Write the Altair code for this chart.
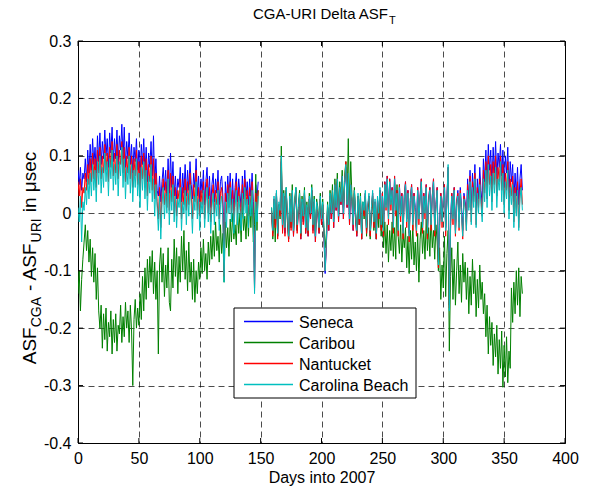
import altair as alt
import pandas as pd

FONT = "Liberation Sans"

stations = ["Seneca", "Caribou", "Nantucket", "Carolina Beach"]
colors = ["#0000ff", "#008000", "#ff0000", "#00bfbf"]
xticks = [0, 50, 100, 150, 200, 250, 300, 350, 400]
yticks = [-0.4, -0.3, -0.2, -0.1, 0.0, 0.1, 0.2, 0.3]

# days 0..148 (segment a) and 159..365 (segment b)
start_a = 0
start_b = 159

seneca_a = [
    0.075, 0.050, 0.080, 0.040, 0.070, 0.060, 0.095, 0.055, 0.110, 0.070,
    0.120, 0.075, 0.130, 0.085, 0.115, 0.070, 0.135, 0.090, 0.140, 0.085,
    0.125, 0.095, 0.145, 0.100, 0.130, 0.080, 0.140, 0.105, 0.150, 0.090,
    0.130, 0.095, 0.145, 0.085, 0.135, 0.110, 0.155, 0.095, 0.150, 0.080,
    0.125, 0.095, 0.140, 0.085, 0.120, 0.070, 0.115, 0.090, 0.130, 0.075,
    0.110, 0.060, 0.120, 0.085, 0.130, 0.070, 0.115, 0.055, 0.105, 0.080,
    0.125, 0.065, 0.135, 0.050, 0.095, 0.040, 0.030, 0.065, 0.020, 0.055,
    0.080, 0.040, 0.075, 0.030, 0.095, 0.035, 0.105, 0.045, 0.090, 0.030,
    0.065, 0.025, 0.060, 0.045, 0.080, 0.020, 0.070, 0.035, 0.085, 0.030,
    0.075, 0.040, 0.090, 0.050, 0.025, 0.070, 0.045, 0.095, 0.030, 0.065,
    0.020, 0.060, 0.035, 0.075, 0.015, 0.055, 0.080, 0.025, 0.065, 0.010,
    0.050, 0.070, 0.020, 0.060, 0.035, 0.075, 0.015, 0.055, 0.065, 0.030,
    -0.100, 0.055, 0.020, 0.065, 0.030, 0.070, 0.015, 0.060, 0.005, 0.045,
    0.070, 0.020, 0.060, 0.035, 0.010, 0.065, 0.025, 0.075, 0.030, 0.055,
    0.015, 0.060, 0.030, 0.070, 0.020, -0.130, 0.050, 0.025, 0.055,
]
seneca_b = [
    0.000, -0.035, 0.025, -0.020, 0.035, -0.040, 0.015, 0.000, 0.090, -0.030,
    0.030, -0.035, 0.040, -0.010, -0.045, 0.025, -0.025, 0.035, -0.040, 0.015,
    0.040, -0.030, 0.005, 0.030, -0.045, 0.020, -0.015, 0.035, -0.035, 0.010,
    -0.040, 0.025, -0.010, 0.040, -0.030, 0.020, -0.050, 0.015, 0.000, -0.035,
    0.025, -0.020, 0.015, -0.040, -0.105, -0.055, 0.010, -0.030, 0.030, -0.010,
    0.035, -0.025, 0.045, 0.005, 0.055, -0.015, 0.040, 0.015, 0.060, -0.010,
    0.050, 0.080, 0.010, 0.065, -0.020, 0.045, 0.020, -0.030, 0.035, -0.010,
    -0.040, 0.030, -0.020, 0.025, -0.045, 0.015, 0.000, 0.035, -0.035, 0.010,
    0.030, -0.040, 0.005, 0.035, -0.025, 0.020, -0.045, 0.025, -0.010, 0.040,
    -0.025, 0.035, -0.025, 0.055, 0.015, 0.065, -0.005, 0.060, 0.020, 0.045,
    -0.020, 0.065, 0.010, 0.040, -0.025, 0.050, 0.000, 0.035, -0.030, 0.030,
    0.055, -0.010, 0.040, -0.035, 0.025, 0.050, -0.015, 0.035, 0.010, -0.025,
    0.045, -0.005, 0.030, 0.060, -0.020, 0.035, 0.005, 0.050, -0.030, 0.025,
    0.045, -0.015, 0.030, 0.060, -0.025, 0.015, 0.045, -0.085, -0.015, 0.035,
    -0.010, 0.025, 0.050, -0.025, 0.025, 0.080, -0.160, -0.015, 0.035, -0.005,
    0.045, -0.030, 0.020, 0.040, -0.015, 0.045, 0.010, -0.030, 0.035, 0.020,
    -0.015, 0.060, 0.025, 0.075, 0.005, 0.070, 0.030, 0.085, 0.000, 0.060,
    0.025, 0.080, 0.040, 0.015, 0.095, 0.055, 0.110, 0.050, 0.120, 0.075,
    0.110, 0.050, 0.115, 0.070, 0.125, 0.060, 0.105, 0.080, 0.120, 0.065,
    0.110, 0.045, 0.100, 0.070, 0.115, 0.035, 0.090, 0.055, 0.085, 0.020,
    0.070, 0.030, 0.080, 0.015, 0.060, 0.085, 0.040,
]

caribou_a = [
    -0.140, -0.100, -0.170, -0.115, -0.080, -0.050, -0.020, -0.065, -0.030, -0.085,
    -0.045, -0.110, -0.060, -0.120, -0.070, -0.150, -0.095, -0.170, -0.200, -0.160,
    -0.235, -0.175, -0.220, -0.165, -0.240, -0.190, -0.215, -0.170, -0.245, -0.185,
    -0.225, -0.175, -0.240, -0.195, -0.210, -0.160, -0.225, -0.180, -0.215, -0.155,
    -0.200, -0.170, -0.225, -0.160, -0.205, -0.300, -0.185, -0.150, -0.200, -0.165,
    -0.195, -0.140, -0.185, -0.110, -0.170, -0.095, -0.150, -0.080, -0.130, -0.075,
    -0.120, -0.065, -0.140, -0.085, -0.150, -0.100, -0.245, -0.090, -0.060, -0.120,
    -0.070, -0.145, -0.090, -0.130, -0.060, -0.155, -0.170, -0.080, -0.130, -0.045,
    -0.110, -0.060, -0.140, -0.075, -0.120, -0.040, -0.100, -0.030, -0.115, -0.065,
    -0.135, -0.050, -0.120, -0.085, -0.150, -0.080, -0.155, -0.100, -0.140, -0.085,
    -0.115, -0.060, -0.105, -0.045, -0.100, -0.070, -0.115, -0.050, -0.090, -0.040,
    -0.080, -0.030, -0.075, -0.015, -0.065, -0.040, -0.085, -0.020, -0.070, -0.035,
    -0.120, -0.015, -0.060, -0.025, -0.075, -0.010, -0.050, 0.000, -0.045, -0.020,
    -0.055, 0.010, -0.035, 0.000, -0.050, 0.025, -0.030, -0.005, -0.045, 0.015,
    -0.040, 0.020, -0.025, 0.035, -0.050, -0.020, 0.068, -0.030, 0.040,
]
caribou_b = [
    0.010, -0.045, 0.020, -0.050, 0.035, -0.040, 0.015, -0.010, 0.117, -0.030,
    0.040, -0.020, 0.045, -0.015, -0.045, 0.035, -0.025, 0.050, -0.035, 0.025,
    0.045, -0.030, 0.015, 0.040, -0.040, 0.030, -0.010, 0.045, -0.030, 0.020,
    -0.035, 0.035, -0.005, 0.050, -0.025, 0.030, -0.040, 0.025, 0.010, -0.030,
    0.035, -0.015, 0.025, -0.025, -0.060, -0.035, 0.020, -0.020, 0.040, 0.005,
    0.050, -0.010, 0.060, 0.015, 0.070, 0.000, 0.055, 0.025, 0.075, 0.010,
    0.065, 0.090, 0.020, 0.130, 0.010, 0.090, 0.030, -0.015, 0.045, 0.000,
    -0.035, 0.030, -0.020, 0.035, -0.045, 0.020, -0.010, 0.030, -0.040, 0.010,
    0.020, -0.045, 0.000, 0.030, -0.030, 0.010, -0.045, 0.015, -0.025, 0.025,
    -0.040, 0.010, -0.060, -0.015, -0.070, -0.020, -0.085, -0.030, -0.065, -0.015,
    -0.075, -0.025, -0.080, 0.050, -0.040, -0.070, -0.020, -0.085, -0.035, -0.060,
    -0.025, -0.095, -0.040, -0.105, -0.030, -0.080, -0.020, -0.090, -0.050, -0.100,
    -0.035, -0.120, -0.045, -0.015, -0.070, -0.030, -0.080, -0.010, -0.065, -0.025,
    -0.075, -0.005, -0.060, -0.030, -0.080, -0.020, -0.050, -0.100, -0.060, -0.150,
    -0.090, -0.130, -0.040, -0.145, -0.070, -0.030, -0.240, -0.110, -0.060, -0.150,
    -0.080, -0.160, -0.100, -0.050, -0.140, -0.090, -0.155, -0.070, -0.120, -0.085,
    -0.150, -0.095, -0.175, -0.110, -0.160, -0.080, -0.140, -0.100, -0.180, -0.115,
    -0.165, -0.090, -0.150, -0.120, -0.175, -0.140, -0.215, -0.160, -0.245, -0.180,
    -0.230, -0.190, -0.265, -0.210, -0.250, -0.195, -0.280, -0.220, -0.270, -0.205,
    -0.303, -0.230, -0.285, -0.215, -0.295, -0.240, -0.270, -0.130, -0.190, -0.120,
    -0.175, -0.100, -0.160, -0.095, -0.180, -0.110, -0.140,
]

nantucket_a = [
    0.055, 0.030, 0.060, 0.010, 0.045, 0.035, 0.070, 0.040, 0.085, 0.050,
    0.095, 0.055, 0.105, 0.060, 0.095, 0.045, 0.110, 0.070, 0.115, 0.060,
    0.100, 0.070, 0.120, 0.075, 0.105, 0.055, 0.115, 0.080, 0.125, 0.065,
    0.105, 0.070, 0.120, 0.060, 0.110, 0.085, 0.125, 0.070, 0.115, 0.055,
    0.100, 0.070, 0.115, 0.060, 0.100, 0.045, 0.095, 0.065, 0.110, 0.050,
    0.090, 0.035, 0.100, 0.060, 0.105, 0.045, 0.095, 0.030, 0.085, 0.055,
    0.100, 0.040, 0.095, 0.025, 0.070, 0.020, -0.010, 0.045, -0.025, 0.035,
    0.060, 0.015, 0.055, 0.010, 0.075, 0.005, 0.070, 0.020, 0.065, 0.000,
    0.045, -0.005, 0.040, 0.025, 0.060, -0.010, 0.045, 0.015, 0.060, 0.005,
    0.055, 0.015, 0.070, 0.030, -0.010, 0.050, 0.020, 0.075, 0.005, 0.045,
    -0.005, 0.040, 0.015, 0.055, -0.010, 0.035, 0.060, 0.000, 0.045, -0.015,
    0.030, 0.050, 0.000, 0.040, 0.015, 0.055, -0.010, 0.035, 0.045, 0.010,
    -0.110, 0.035, 0.000, 0.050, 0.010, 0.055, 0.000, 0.040, -0.015, 0.030,
    0.055, 0.000, 0.045, 0.020, -0.010, 0.050, 0.005, 0.060, 0.015, 0.040,
    -0.005, 0.045, 0.010, 0.055, 0.000, -0.135, 0.035, 0.005, 0.040,
]
nantucket_b = [
    0.005, -0.040, 0.025, -0.025, 0.035, -0.045, 0.015, -0.005, 0.095, -0.035,
    0.030, -0.040, 0.040, -0.010, -0.050, 0.025, -0.030, 0.035, -0.040, 0.015,
    0.040, -0.035, 0.005, 0.030, -0.045, 0.020, -0.020, 0.035, -0.035, 0.010,
    -0.040, 0.025, -0.010, 0.040, -0.035, 0.020, -0.050, 0.015, 0.000, -0.035,
    0.025, -0.020, 0.015, -0.040, -0.100, -0.055, 0.010, -0.030, 0.030, -0.010,
    0.040, -0.025, 0.050, 0.005, 0.060, -0.015, 0.045, 0.015, 0.065, -0.010,
    0.055, 0.090, 0.010, 0.070, -0.020, 0.050, 0.020, -0.030, 0.040, -0.010,
    -0.040, 0.030, -0.020, 0.025, -0.045, 0.015, -0.005, 0.035, -0.035, 0.010,
    0.030, -0.040, 0.005, 0.035, -0.025, 0.020, -0.045, 0.025, -0.010, 0.040,
    -0.030, 0.035, -0.040, 0.055, 0.005, 0.065, -0.020, 0.060, 0.005, 0.045,
    -0.035, 0.065, -0.005, 0.040, -0.040, 0.050, -0.015, 0.035, -0.045, 0.030,
    0.055, -0.025, 0.040, -0.050, 0.025, 0.050, -0.030, 0.035, -0.005, -0.040,
    0.045, -0.020, 0.030, 0.060, -0.035, 0.035, -0.010, 0.050, -0.045, 0.025,
    0.045, -0.030, 0.030, 0.060, -0.040, 0.015, 0.045, -0.095, -0.030, 0.035,
    -0.025, 0.025, 0.050, -0.040, 0.025, 0.080, -0.165, -0.030, 0.035, -0.020,
    0.045, -0.040, 0.020, 0.035, -0.030, 0.040, 0.000, -0.045, 0.030, 0.015,
    -0.030, 0.050, 0.010, 0.065, -0.015, 0.055, 0.020, 0.070, -0.020, 0.045,
    0.010, 0.060, 0.025, -0.005, 0.075, 0.035, 0.090, 0.025, 0.100, 0.050,
    0.085, 0.020, 0.090, 0.050, 0.100, 0.030, 0.080, 0.055, 0.100, 0.040,
    0.085, 0.015, 0.070, 0.040, 0.090, 0.005, 0.060, 0.030, 0.065, -0.015,
    0.045, 0.000, 0.055, -0.025, 0.035, 0.060, 0.015,
]

carolina_a = [
    0.010, -0.015, 0.030, -0.050, 0.020, 0.005, 0.045, 0.015, 0.060, 0.025,
    0.070, 0.030, 0.085, 0.040, 0.075, 0.020, 0.090, 0.050, 0.100, 0.035,
    0.080, 0.045, 0.105, 0.055, 0.090, 0.030, 0.095, 0.060, 0.110, 0.040,
    0.085, 0.050, 0.100, 0.030, 0.090, 0.065, 0.115, 0.045, 0.095, 0.025,
    0.080, 0.050, 0.100, 0.035, 0.085, 0.020, 0.075, 0.045, 0.095, 0.030,
    0.070, 0.010, 0.080, 0.040, 0.090, 0.025, 0.075, 0.005, 0.065, 0.035,
    0.085, 0.020, 0.060, -0.005, 0.050, 0.010, -0.030, 0.030, -0.045, 0.015,
    0.045, -0.010, 0.035, 0.000, 0.060, -0.020, 0.040, 0.005, 0.050, -0.015,
    0.030, -0.025, 0.025, 0.010, 0.045, -0.030, 0.020, 0.000, 0.040, -0.020,
    0.035, -0.005, 0.050, 0.015, -0.035, 0.030, 0.005, 0.055, -0.010, 0.025,
    -0.030, 0.020, 0.000, 0.040, -0.025, 0.015, 0.045, -0.015, 0.030, -0.035,
    0.010, 0.035, -0.020, 0.025, -0.005, 0.040, -0.030, 0.015, 0.030, -0.010,
    -0.120, 0.020, -0.025, 0.035, 0.000, 0.045, -0.015, 0.025, -0.035, 0.010,
    0.040, -0.020, 0.030, 0.005, -0.030, 0.035, -0.010, 0.045, 0.000, 0.025,
    -0.025, 0.030, -0.005, 0.040, -0.020, -0.140, 0.020, -0.015, 0.030,
]
carolina_b = [
    0.010, -0.030, 0.030, -0.010, 0.040, -0.035, 0.020, 0.005, 0.100, -0.020,
    0.035, -0.025, 0.045, 0.000, -0.040, 0.030, -0.015, 0.040, -0.030, 0.020,
    0.045, -0.020, 0.010, 0.035, -0.035, 0.025, -0.005, 0.040, -0.025, 0.015,
    -0.030, 0.030, 0.000, 0.045, -0.020, 0.025, -0.040, 0.020, 0.005, -0.025,
    0.030, -0.010, 0.020, -0.030, -0.100, -0.045, 0.015, -0.020, 0.035, 0.000,
    0.040, -0.015, 0.050, 0.010, 0.060, -0.005, 0.045, 0.020, 0.065, 0.000,
    0.055, 0.085, 0.015, 0.070, -0.010, 0.050, 0.025, -0.020, 0.040, 0.000,
    -0.030, 0.035, -0.010, 0.030, -0.035, 0.020, 0.005, 0.040, -0.025, 0.015,
    0.035, -0.030, 0.010, 0.040, -0.015, 0.025, -0.035, 0.030, 0.000, 0.045,
    -0.020, 0.030, -0.030, 0.050, 0.010, 0.060, -0.010, 0.055, 0.015, 0.040,
    -0.025, 0.060, 0.005, 0.035, -0.030, 0.045, -0.005, 0.030, -0.035, 0.025,
    0.050, -0.015, 0.035, -0.040, 0.020, 0.045, -0.020, 0.030, 0.005, -0.030,
    0.040, -0.010, 0.025, 0.055, -0.025, 0.030, 0.000, 0.045, -0.035, 0.020,
    0.040, -0.020, 0.025, 0.055, -0.030, 0.010, 0.040, -0.090, -0.020, 0.030,
    -0.015, 0.020, 0.045, -0.030, 0.020, 0.085, -0.170, -0.020, 0.030, -0.010,
    0.040, -0.035, 0.015, 0.030, -0.025, 0.035, 0.000, -0.040, 0.025, 0.010,
    -0.030, 0.040, 0.005, 0.055, -0.020, 0.045, 0.010, 0.060, -0.025, 0.035,
    0.000, 0.050, 0.015, -0.015, 0.060, 0.020, 0.075, 0.010, 0.085, 0.030,
    0.065, 0.005, 0.070, 0.035, 0.080, 0.010, 0.060, 0.040, 0.090, 0.020,
    0.070, 0.000, 0.055, 0.025, 0.075, -0.010, 0.045, 0.015, 0.050, -0.025,
    0.035, -0.005, 0.040, -0.030, 0.025, 0.045, 0.005,
]

series = {
    "Seneca": (seneca_a, seneca_b),
    "Caribou": (caribou_a, caribou_b),
    "Nantucket": (nantucket_a, nantucket_b),
    "Carolina Beach": (carolina_a, carolina_b),
}

rows = []
for name, (sa, sb) in series.items():
    for i, v in enumerate(sa):
        rows.append({"station": name, "seg": "a", "day": start_a + i, "value": v})
    for i, v in enumerate(sb):
        rows.append({"station": name, "seg": "b", "day": start_b + i, "value": v})
df = pd.DataFrame(rows)

W, H = 487, 402
FS, FSUB = 15, 11      # title
FL = 16                # tick labels / axis title / legend
FY, FYSUB = 19, 14     # y label

xscale = alt.Scale(domain=[0, 400], nice=False, zero=False)
yscale = alt.Scale(domain=[-0.4, 0.3], nice=False, zero=False)

x_enc = alt.X("day:Q", scale=xscale, axis=alt.Axis(
    values=xticks, title="Days into 2007", grid=True, ticks=False, domain=False,
    labelPadding=7, titlePadding=3, labelFlush=False))
y_enc = alt.Y("value:Q", scale=yscale, axis=alt.Axis(
    values=yticks, title=None, grid=True, ticks=False, domain=False,
    labelPadding=7, labelFlush=False,
    labelExpr="datum.value == 0 ? '0' : toString(round(datum.value * 10) / 10)"))
color_enc = alt.Color("station:N", scale=alt.Scale(domain=stations, range=colors), legend=None)

layers = []
for name in stations:
    layers.append(
        alt.Chart(df).transform_filter(alt.datum.station == name)
        .mark_line(strokeWidth=1, clip=True)
        .encode(x=x_enc, y=y_enc, color=color_enc, detail="seg:N")
    )

# inward ticks on all four sides (same fields as the data so axes merge)
xt = pd.DataFrame({"day": xticks})
yt = pd.DataFrame({"value": yticks})
tick_style = dict(color="black", strokeWidth=1)
layers.append(alt.Chart(xt).mark_rule(**tick_style).encode(
    x=x_enc, y=alt.value(H), y2=alt.value(H - 5)))
layers.append(alt.Chart(xt).mark_rule(**tick_style).encode(
    x=x_enc, y=alt.value(0), y2=alt.value(5)))
layers.append(alt.Chart(yt).mark_rule(**tick_style).encode(
    y=y_enc, x=alt.value(0), x2=alt.value(5)))
layers.append(alt.Chart(yt).mark_rule(**tick_style).encode(
    y=y_enc, x=alt.value(W), x2=alt.value(W - 5)))

# Legend box (drawn manually)
one = pd.DataFrame({"k": [0]})
layers.append(alt.Chart(one).mark_rect(fill="white", stroke="black", strokeWidth=1).encode(
    x=alt.value(156), x2=alt.value(338), y=alt.value(267), y2=alt.value(357)))
row_y = [280.5, 301.5, 322.5, 343.5]
for name, col, ry in zip(stations, colors, row_y):
    layers.append(alt.Chart(one).mark_rule(strokeWidth=1.3, color=col).encode(
        x=alt.value(166), x2=alt.value(215), y=alt.value(ry)))
    layers.append(alt.Chart(pd.DataFrame({"t": [name]})).mark_text(
        align="left", baseline="middle", fontSize=FL, font=FONT, color="black").encode(
        text="t:N", x=alt.value(221), y=alt.value(ry + 1)))

# Title with subscript
layers.append(alt.Chart(pd.DataFrame({"t": ["CGA-URI Delta ASF"]})).mark_text(
    align="right", baseline="alphabetic", fontSize=FS, font=FONT, color="black").encode(
    text="t:N", x=alt.value(310), y=alt.value(-22)))
layers.append(alt.Chart(pd.DataFrame({"t": ["T"]})).mark_text(
    align="left", baseline="alphabetic", fontSize=FSUB, font=FONT, color="black").encode(
    text="t:N", x=alt.value(311), y=alt.value(-17)))

# Y label with subscripts (rotated)
pieces = [("ASF", FY, 1.945 * FY, 0), ("CGA", FYSUB, 2.167 * FYSUB + 6, 1),
          ("- ASF", FY, 2.556 * FY, 0), ("URI", FYSUB, 1.722 * FYSUB + 6, 1),
          ("in \u03bcsec", FY, 3.188 * FY, 0)]
total = sum(p[2] for p in pieces)
ycur = 217 + total / 2
for txt, fs, w, sub in pieces:
    layers.append(alt.Chart(pd.DataFrame({"t": [txt]})).mark_text(
        align="left", baseline="alphabetic", angle=270, fontSize=fs, font=FONT,
        color="black").encode(text="t:N", x=alt.value(-37 if sub else -42), y=alt.value(ycur)))
    ycur -= w

chart = alt.layer(*layers).properties(
    width=W, height=H,
    autosize=alt.AutoSizeParams(type="none"),
    padding={"left": 78, "top": 41, "right": 51, "bottom": 45},
    background="white",
).configure_view(stroke="black", strokeWidth=1).configure_axis(
    labelFont=FONT, labelFontSize=FL, labelColor="black",
    titleFont=FONT, titleFontSize=FL, titleColor="black", titleFontWeight="normal",
    gridColor="black", gridOpacity=0.7, gridDash=[6, 4], gridWidth=1,
)

chart.save("out.html", embed_options={"renderer": "svg", "actions": False})
